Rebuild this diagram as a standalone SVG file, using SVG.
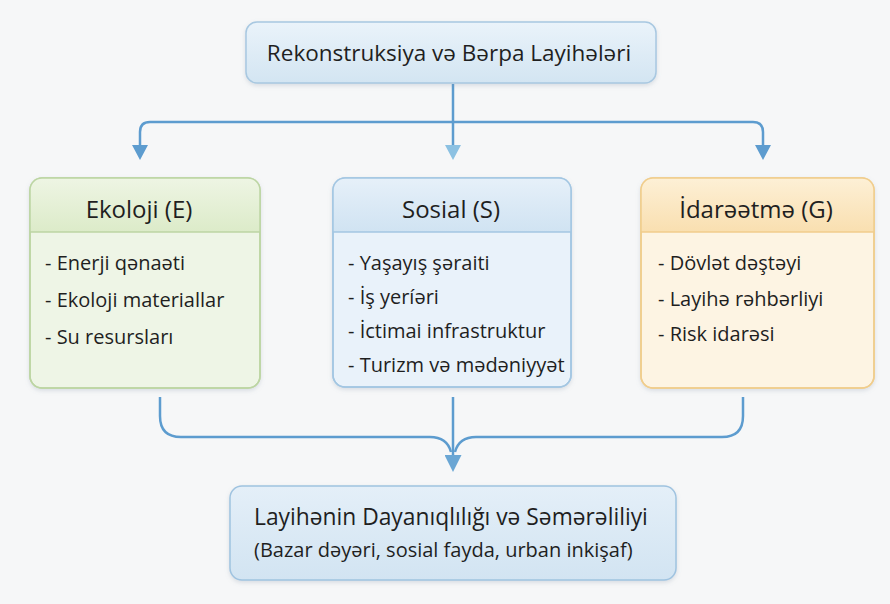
<svg xmlns="http://www.w3.org/2000/svg" width="890" height="604" viewBox="0 0 890 604">
  <defs>
    <linearGradient id="gTop" x1="0" y1="0" x2="0" y2="1">
      <stop offset="0" stop-color="#eaf3fa"/>
      <stop offset="1" stop-color="#d3e5f2"/>
    </linearGradient>
    <linearGradient id="gGreenHead" x1="0" y1="0" x2="0" y2="1">
      <stop offset="0" stop-color="#eef5e4"/>
      <stop offset="1" stop-color="#dcebc9"/>
    </linearGradient>
    <linearGradient id="gBlueHead" x1="0" y1="0" x2="0" y2="1">
      <stop offset="0" stop-color="#e6f0f9"/>
      <stop offset="1" stop-color="#d0e3f2"/>
    </linearGradient>
    <linearGradient id="gOrangeHead" x1="0" y1="0" x2="0" y2="1">
      <stop offset="0" stop-color="#fdf0d6"/>
      <stop offset="1" stop-color="#f9dfb0"/>
    </linearGradient>
    <linearGradient id="gBottom" x1="0" y1="0" x2="0" y2="1">
      <stop offset="0" stop-color="#e4eff8"/>
      <stop offset="1" stop-color="#d2e4f2"/>
    </linearGradient>
    <filter id="shadow" x="-10%" y="-10%" width="120%" height="130%">
      <feDropShadow dx="0" dy="2" stdDeviation="2" flood-color="#7a8ea0" flood-opacity="0.25"/>
    </filter>
    <!-- arrowheads drawn pointing along +x, base sits on the path end -->
    <marker id="arrow" viewBox="0 0 15 16" refX="0" refY="8" markerWidth="15" markerHeight="16" markerUnits="userSpaceOnUse" orient="auto-start-reverse">
      <path d="M0,0 L15,8 L0,16 Z" fill="#5d9ccf"/>
    </marker>
    <marker id="arrowLight" viewBox="0 0 15 16" refX="0" refY="8" markerWidth="15" markerHeight="16" markerUnits="userSpaceOnUse" orient="auto">
      <path d="M0,0 L15,8 L0,16 Z" fill="#8cc1e2"/>
    </marker>
    <marker id="arrowBig" viewBox="0 0 17 17" refX="0" refY="8.5" markerWidth="17" markerHeight="17" markerUnits="userSpaceOnUse" orient="auto">
      <path d="M0,0 L17,8.5 L0,17 Z" fill="#6aa6d4"/>
    </marker>
  </defs>
  <style>
    text { font-family: "Open Sans", "Noto Sans", "DejaVu Sans", sans-serif; fill: #1f1f1f; }
    .title { font-size: 22.5px; }
    .head { font-size: 24px; text-anchor: middle; }
    .item { font-size: 20px; }
    .res1 { font-size: 22.8px; }
    .res2 { font-size: 20px; }
    .conn { fill: none; stroke: #5d9ccf; stroke-width: 2.5; }
  </style>

  <rect width="890" height="604" fill="#f6f7f8"/>

  <!-- connectors -->
  <g id="connectors">
    <path class="conn" d="M453,84 V145" stroke="#8cc1e2" marker-end="url(#arrowLight)"/>
    <path class="conn" d="M140,145 V132 Q140,122 150,122 H753 Q763,122 763,132 V145" marker-start="url(#arrow)" marker-end="url(#arrow)"/>
    <path class="conn" d="M160,397 V416 Q160,437 181,437 H430 Q447,437 451,452"/>
    <path class="conn" d="M743,397 V416 Q743,437 722,437 H476 Q459,437 455,452"/>
    <path class="conn" d="M453,397 V455" stroke="#6aa6d4" marker-end="url(#arrowBig)"/>
  </g>

  <!-- top node -->
  <g id="node-top">
    <rect x="246" y="22" width="410" height="61" rx="11" fill="url(#gTop)" stroke="#a8c8e1" stroke-width="1.5" filter="url(#shadow)"/>
    <text class="title" x="449" y="61" text-anchor="middle">Rekonstruksiya və Bərpa Layihələri</text>
  </g>

  <!-- environmental -->
  <g id="node-e">
    <rect x="30" y="178" width="230" height="210" rx="12" fill="#eef5e6" stroke="#bcd5a3" stroke-width="1.5" filter="url(#shadow)"/>
    <path d="M30,232 V190 Q30,178 42,178 H248 Q260,178 260,190 V232 Z" fill="url(#gGreenHead)"/>
    <path d="M30,232 H260" fill="none" stroke="#bcd5a3" stroke-width="1.5"/>
    <rect x="30" y="178" width="230" height="210" rx="12" fill="none" stroke="#bcd5a3" stroke-width="1.5"/>
    <text class="head" x="139" y="218">Ekoloji (E)</text>
    <text class="item" x="45" y="270">- Enerji qənaəti</text>
    <text class="item" x="45" y="307">- Ekoloji materiallar</text>
    <text class="item" x="45" y="344">- Su resursları</text>
  </g>

  <!-- social -->
  <g id="node-s">
    <rect x="333" y="178" width="238" height="209" rx="12" fill="#e9f2fa" stroke="#a3c6e2" stroke-width="1.5" filter="url(#shadow)"/>
    <path d="M333,232 V190 Q333,178 345,178 H559 Q571,178 571,190 V232 Z" fill="url(#gBlueHead)"/>
    <path d="M333,232 H571" fill="none" stroke="#a3c6e2" stroke-width="1.5"/>
    <rect x="333" y="178" width="238" height="209" rx="12" fill="none" stroke="#a3c6e2" stroke-width="1.5"/>
    <text class="head" x="451" y="218">Sosial (S)</text>
    <text class="item" x="348" y="270">- Yaşayış şəraiti</text>
    <text class="item" x="348" y="304">- İş yeríəri</text>
    <text class="item" x="348" y="338">- İctimai infrastruktur</text>
    <text class="item" x="348" y="372">- Turizm və mədəniyyət</text>
  </g>

  <!-- governance -->
  <g id="node-g">
    <rect x="641" y="178" width="233" height="210" rx="12" fill="#fdf4e3" stroke="#f0cd8c" stroke-width="1.5" filter="url(#shadow)"/>
    <path d="M641,232 V190 Q641,178 653,178 H862 Q874,178 874,190 V232 Z" fill="url(#gOrangeHead)"/>
    <path d="M641,232 H874" fill="none" stroke="#f0cd8c" stroke-width="1.5"/>
    <rect x="641" y="178" width="233" height="210" rx="12" fill="none" stroke="#f0cd8c" stroke-width="1.5"/>
    <text class="head" x="756" y="218">İdarəətmə (G)</text>
    <text class="item" x="658" y="270">- Dövlət dəştəyi</text>
    <text class="item" x="658" y="306">- Layihə rəhbərliyi</text>
    <text class="item" x="658" y="341">- Risk idarəsi</text>
  </g>

  <!-- result -->
  <g id="node-result">
    <rect x="230" y="486" width="446" height="94" rx="12" fill="url(#gBottom)" stroke="#9fc3e0" stroke-width="1.5" filter="url(#shadow)"/>
    <text class="res1" x="254" y="525">Layihənin Dayanıqlılığı və Səmərəliliyi</text>
    <text class="res2" x="254" y="557">(Bazar dəyəri, sosial fayda, urban inkişaf)</text>
  </g>
</svg>
